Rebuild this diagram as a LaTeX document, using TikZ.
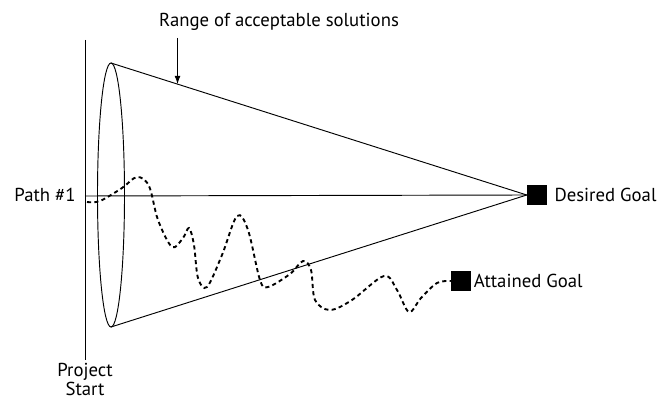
\documentclass[tikz,border=0pt]{standalone}
\usepackage{fontspec}
\setmainfont{PT Sans}
\usetikzlibrary{positioning, arrows.meta, calc}

\begin{document}
\begin{tikzpicture}[x=0.03cm, y=-0.03cm,
  lbl/.style={font=\fontsize{16}{14}\selectfont, inner sep=1pt},
  goal/.style={rectangle, fill=black, minimum size=0.6cm, inner sep=0pt},
  line/.style={line width=0.8pt},
  arrow/.style={-{Latex[length=7pt,width=5pt]}, line width=0.8pt},
  wander/.style={line width=1.6pt, dash pattern=on 3.5pt off 2.8pt},
]
\useasboundingbox (0,0) rectangle (667,401);

% project start line
\coordinate (top) at (85,40);
\coordinate (bot) at (85,360);
\draw[line] (top) -- (bot);
\node[lbl, align=center, anchor=north] (start) at (85,362) {Project\\Start};

% goals
\node[goal] (desired) at (537,195) {};
\node[lbl, right=5pt of desired] (desiredlbl) {Desired Goal};
\node[goal] (attained) at (461,281) {};
\node[lbl, right=1pt of attained] (attainedlbl) {Attained Goal};

% cone of acceptable solutions
\coordinate (conetop) at (111,63);
\coordinate (conebot) at (111,327);
\draw[line] (111,195) ellipse [x radius=0.405cm, y radius=3.96cm];
\draw[line] (conetop) -- (desired.west);
\draw[line] (conebot) -- (desired.west);

% path #1
\node[lbl, anchor=east] (path) at (77,195) {Path \#1};
\coordinate (p1) at (85,196);
\draw[line] (p1) -- (desired.west);

% label with arrow onto the cone
\node[lbl] (range) at (279,22) {Range of acceptable solutions};
\coordinate (hit) at ($(conetop)!0.16!(desired.west)$);
\draw[arrow] ([yshift=-5pt]range.south -| hit) -- (hit);

% the wandering real path
\coordinate (p0) at (87,202);
\draw[wander] plot[smooth, tension=0.55] coordinates {
  (p0) (100,201) (122,188) (137,177) (149,186) (158,220) (172,247)
  (183,238) (189,228) (194,245) (198,278) (207,287) (222,255) (237,216)
  (248,230) (260,280) (268,287) (290,274) (303,261) (311,270) (315,300)
  (330,310) (352,300) (384,276) (397,290) (409,312) (421,298) (437,283)
  (attained.west)};
\end{tikzpicture}
\end{document}
